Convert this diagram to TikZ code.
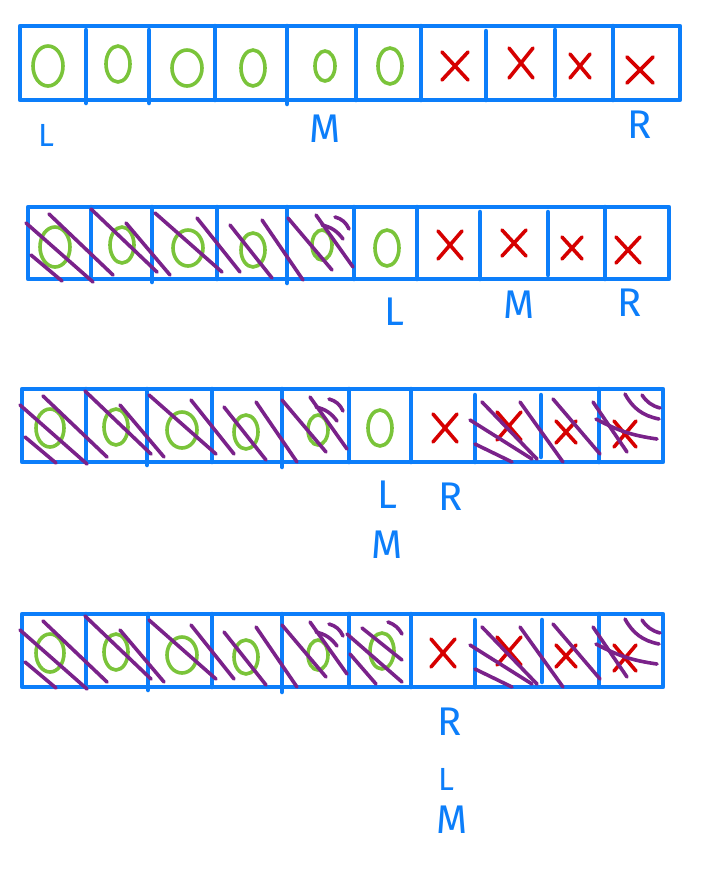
\documentclass[tikz,border=0pt]{standalone}
\usepackage{fontspec}
\setsansfont{Fira Sans}
\definecolor{pblue}{RGB}{12,126,250}
\definecolor{pgreen}{RGB}{122,196,58}
\definecolor{pred}{RGB}{214,0,0}
\definecolor{ppurple}{RGB}{122,34,138}
\tikzset{
  boxline/.style={draw=pblue,line width=4.5pt,line cap=round,line join=round},
  omark/.style={draw=pgreen,line width=3.6pt},
  xmk/.style={draw=pred,line width=3.6pt,line cap=round},
  hatch/.style={draw=ppurple,line width=3.6pt,line cap=round},
  lbl/.style={text=pblue,inner sep=0pt,font=\sffamily\fontsize{40}{40}\selectfont},
  lbls/.style={lbl,font=\sffamily\fontsize{32}{32}\selectfont}
}
\newcommand\xcross[4]{\draw[xmk] ({#1-#3/2},{#2-#4/2}) -- ({#1+#3/2},{#2+#4/2}) ({#1+#3/2},{#2-#4/2}) -- ({#1-#3/2},{#2+#4/2});}
\newcommand\hatchleft{%
  \foreach \a/\b/\c/\d in {26/16/93/75,49/7/113/68,31/48/62/74,91/2/157/65,126/16/170/68,155/6/222/65,197/11/240/65,230/18/272/71,262/13/303/73,288/11/332/63,316/8/353/60}
    {\draw[hatch] (\a,\b) -- (\c,\d);}
  \draw[hatch] (335,10) to[bend left=25] (349,22);
  \draw[hatch] (322,18) to[bend left=20] (343,32);}
\newcommand\hatchright{%
  \foreach \a/\b/\c/\d in {470/31/532/70,475/55/512/73,482/13/537/70,520/13/563/73,553/10/600/65,593/13/627/63}
    {\draw[hatch] (\a,\b) -- (\c,\d);}
  \draw[hatch] (596,30) to[bend right=10] (657,50);
  \draw[hatch] (625,5) to[bend right=25] (659,30);
  \draw[hatch] (642,6) to[bend right=20] (660,19);}
\begin{document}
\begin{tikzpicture}[x=1pt,y=-1pt]
\useasboundingbox (0,0) rectangle (713,879);
\fill[white] (0,0) rectangle (713,879);

% ---------- Row 1 ----------
\draw[boxline] (20,26) rectangle (680,100);
\foreach \x/\ya/\yb in {86/30/103,149/30/103,215/26/100,287/26/104,356/26/100,421/26/100,486/31/100,555/30/96,613/26/100}
  {\draw[boxline] (\x,\ya) -- (\x,\yb);}
\foreach \x/\y/\rx/\ry in {48/66/15/20,118/64/12/18,187/68/15/18,253/68/12/18,325/66/10/15,390/66/12/18}
  {\draw[omark] (\x,\y) ellipse [x radius=\rx, y radius=\ry];}
\xcross{455}{66}{26}{28}
\xcross{521}{63}{24}{30}
\xcross{580}{66}{20}{24}
\xcross{640}{70}{26}{26}
\node[lbls] (L1) at (46,135) {L};
\node[lbl]  (M1) at (325,129) {M};
\node[lbl]  (R1) at (640,125) {R};

% ---------- Row 2 ----------
\draw[boxline] (28,207) rectangle (669,279);
\foreach \x/\ya/\yb in {91/207/279,152/207/282,217/207/279,287/207/283,354/207/279,417/207/279,480/212/279,548/212/275,605/207/279}
  {\draw[boxline] (\x,\ya) -- (\x,\yb);}
\foreach \x/\y/\rx/\ry in {55/247/15/20,122/245/12/18,188/248/15/18,253/250/12/17,322/245/10/15,387/248/12/18}
  {\draw[omark] (\x,\y) ellipse [x radius=\rx, y radius=\ry];}
\xcross{450}{245}{24}{28}
\xcross{514}{243}{24}{26}
\xcross{572}{248}{20}{22}
\xcross{628}{250}{24}{26}
\begin{scope}[shift={(0,207)}]
  \hatchleft
\end{scope}
\node[lbl] (L2) at (394,312) {L};
\node[lbl] (M2) at (519,305) {M};
\node[lbl] (R2) at (630,303) {R};

% ---------- Row 3 ----------
\draw[boxline] (22,389) rectangle (663,462);
\foreach \x/\ya/\yb in {86/389/462,147/389/465,212/389/462,282/389/467,349/389/462,411/389/462,475/395/462,541/395/457,599/389/462}
  {\draw[boxline] (\x,\ya) -- (\x,\yb);}
\foreach \x/\y/\rx/\ry in {50/428/14/19,116/427/12/18,182/430/15/18,246/432/12/17,318/430/10/15,380/428/12/18}
  {\draw[omark] (\x,\y) ellipse [x radius=\rx, y radius=\ry];}
\xcross{445}{428}{24}{28}
\xcross{509}{426}{24}{28}
\xcross{566}{432}{20}{22}
\xcross{625}{434}{22}{26}
\begin{scope}[shift={(-6,389)}]
  \hatchleft
\end{scope}
\begin{scope}[shift={(0,389)}]
  \hatchright
\end{scope}
\node[lbl] (L3) at (387,495) {L};
\node[lbl] (R3) at (451,497) {R};
\node[lbl] (M3) at (387,545) {M};

% ---------- Row 4 ----------
\draw[boxline] (22,614) rectangle (663,687);
\foreach \x/\ya/\yb in {86/614/687,148/614/690,212/614/687,282/614/692,349/614/687,411/614/687,475/620/687,542/620/682,599/614/687}
  {\draw[boxline] (\x,\ya) -- (\x,\yb);}
\foreach \x/\y/\rx/\ry in {50/653/14/19,116/652/12/18,182/655/15/18,246/657/12/17,318/655/10/15,382/651/12/18}
  {\draw[omark] (\x,\y) ellipse [x radius=\rx, y radius=\ry];}
\xcross{443}{653}{24}{28}
\xcross{509}{651}{24}{28}
\xcross{566}{656}{20}{22}
\xcross{625}{658}{22}{26}
\begin{scope}[shift={(-6,614)}]
  \hatchleft
\end{scope}
\begin{scope}[shift={(0,614)}]
  \hatchright
  \foreach \a/\b/\c/\d in {347/20/402/68,362/14/402/46,350/40/376/70}
    {\draw[hatch] (\a,\b) -- (\c,\d);}
  \draw[hatch] (388,8) to[bend left=20] (402,20);
\end{scope}
\node[lbl]  (R4) at (450,722) {R};
\node[lbls] (L4) at (446,779) {L};
\node[lbl]  (M4) at (452,820) {M};
\end{tikzpicture}
\end{document}
